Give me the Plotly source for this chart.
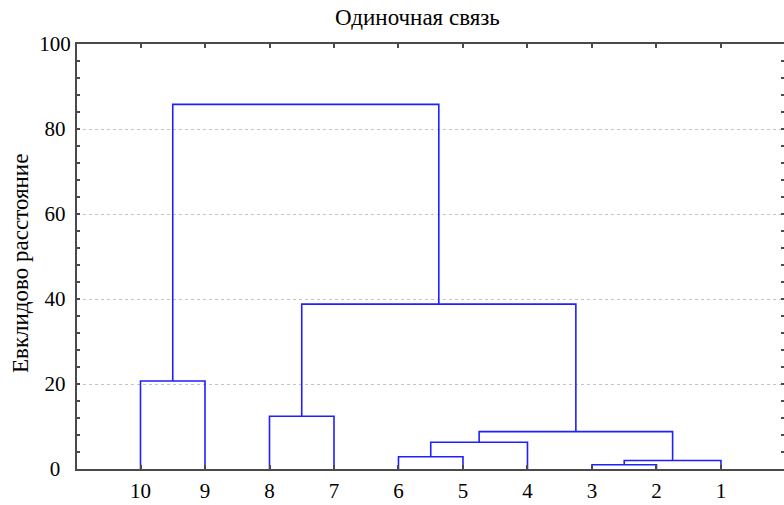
import plotly.graph_objects as go

# Leaves in display order (left to right)
leaf_labels = ["10", "9", "8", "7", "6", "5", "4", "3", "2", "1"]

# Single-linkage merge steps: left child, right child, resulting cluster, distance
link_left = ["3", "A", "6", "C", "D", "8", "F", "10", "H"]
link_right = ["2", "1", "5", "4", "B", "7", "E", "9", "G"]
link_name = ["A", "B", "C", "D", "E", "F", "G", "H", "I"]
link_height = [1.0, 2.0, 2.9, 6.3, 8.8, 12.4, 38.8, 20.7, 85.8]

y_ticks = [0, 20, 40, 60, 80, 100]

FONT = "Liberation Serif, Times New Roman, serif"
LINE_BLUE = "#1f1fff"
AXIS_GREY = "#4a4a4a"
NBSP = "\u00a0"

# attach point (x, height) of every node
node_x = {lab: i + 1 for i, lab in enumerate(leaf_labels)}
node_h = {lab: 0.0 for lab in leaf_labels}

xs, ys = [], []
for left, right, name, h in zip(link_left, link_right, link_name, link_height):
    xl, xr = node_x[left], node_x[right]
    xs += [xl, xl, xr, xr, None]
    ys += [node_h[left], h, h, node_h[right], None]
    node_x[name] = (xl + xr) / 2
    node_h[name] = h

# y labels are centred in their column: a digit is two no-break spaces wide,
# so each missing digit needs one space of right padding
widest = max(len(str(v)) for v in y_ticks)
y_text = [str(v) + NBSP * (widest - len(str(v))) for v in y_ticks]

fig = go.Figure()
fig.add_trace(go.Scatter(
    x=xs, y=ys, mode="lines",
    line=dict(color=LINE_BLUE, width=1.6),
    hoverinfo="skip", showlegend=False,
))
# invisible trace so the right-hand tick axis is drawn
fig.add_trace(go.Scatter(
    x=[None], y=[None], yaxis="y2", mode="lines",
    hoverinfo="skip", showlegend=False,
))

fig.update_layout(
    width=784, height=505,
    margin=dict(l=77, r=0, t=44, b=36),
    paper_bgcolor="white", plot_bgcolor="white",
    font=dict(family=FONT, size=21, color="black"),
    xaxis=dict(
        range=[0.0155, 10.977],
        tickmode="array",
        tickvals=list(range(1, len(leaf_labels) + 1)),
        ticktext=leaf_labels,
        ticks="inside", ticklen=4, tickwidth=1.5, tickcolor=AXIS_GREY,
        ticklabelstandoff=2,
        showline=True, linecolor=AXIS_GREY, linewidth=2, mirror="ticks",
        showgrid=False, zeroline=False,
        tickfont=dict(family=FONT, size=21, color="black"),
    ),
    yaxis=dict(
        range=[0, 100],
        tickmode="array", tickvals=y_ticks, ticktext=y_text,
        ticks="inside", ticklen=3, tickwidth=1.5, tickcolor=AXIS_GREY,
        minor=dict(dtick=4, ticks="inside", ticklen=3, tickcolor=AXIS_GREY,
                   showgrid=False),
        showline=True, linecolor=AXIS_GREY, linewidth=2, mirror=False,
        showgrid=True, gridcolor="#c4c4c4", griddash="dot", gridwidth=1,
        zeroline=False,
        tickfont=dict(family=FONT, size=21, color="black"),
    ),
    yaxis2=dict(
        range=[0, 100], overlaying="y", side="right",
        tickmode="array", tickvals=y_ticks, showticklabels=False,
        ticks="inside", ticklen=3, tickwidth=1.5, tickcolor=AXIS_GREY,
        minor=dict(dtick=4, ticks="inside", ticklen=3, tickcolor=AXIS_GREY,
                   showgrid=False),
        showline=False, showgrid=False, zeroline=False,
    ),
    annotations=[
        dict(text="Одиночная связь", xref="paper", yref="paper",
             x=(417 - 77) / 707, y=(469 - 17) / 425,
             xanchor="center", yanchor="middle", showarrow=False,
             font=dict(family=FONT, size=23, color="black")),
        dict(text="Евклидово расстояние", xref="paper", yref="paper",
             x=(20 - 77) / 707, y=(469 - 264) / 425, textangle=-90,
             xanchor="center", yanchor="middle", showarrow=False,
             font=dict(family=FONT, size=23, color="black")),
    ],
)

fig.write_html("out.html")
